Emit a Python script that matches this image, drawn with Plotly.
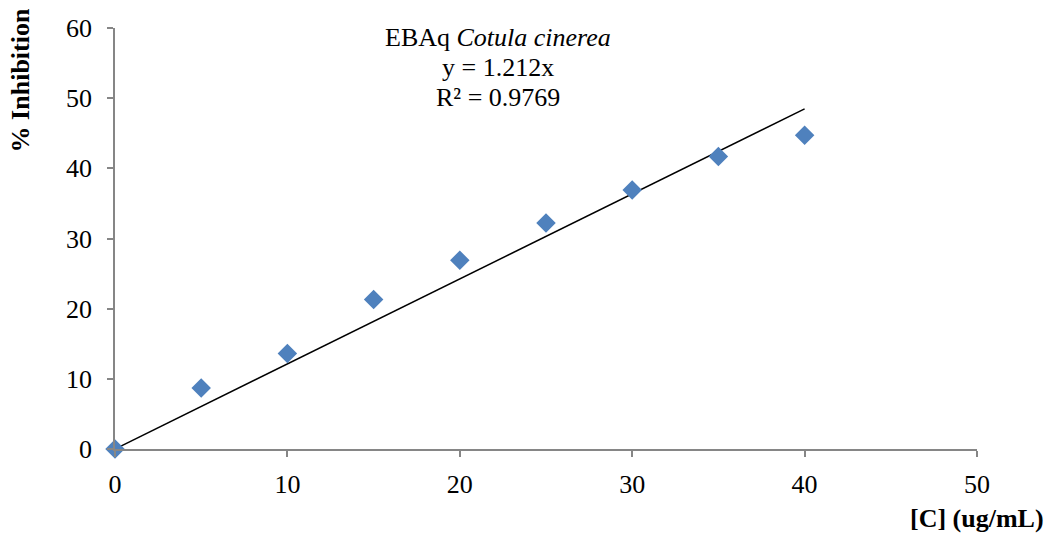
import plotly.graph_objects as go

conc = [0, 5, 10, 15, 20, 25, 30, 35, 40]
inhibition = [0, 8.7, 13.6, 21.3, 26.9, 32.2, 36.9, 41.7, 44.7]
slope = 1.212
fit_x = [0, 40]
fit_y = [slope * v for v in fit_x]

x_ticks = [0, 10, 20, 30, 40, 50]
y_ticks = [0, 10, 20, 30, 40, 50, 60]

label_lines = ["EBAq <i>Cotula cinerea</i>", "y = 1.212x", "R² = 0.9769"]

font_family = "Liberation Serif"

fig = go.Figure()
fig.add_trace(go.Scatter(
    x=fit_x, y=fit_y, mode="lines",
    line=dict(color="black", width=1.5),
    cliponaxis=False, showlegend=False, hoverinfo="skip"))
fig.add_trace(go.Scatter(
    x=conc, y=inhibition, mode="markers",
    marker=dict(symbol="diamond", size=15, color="#4F81BD"),
    cliponaxis=False, showlegend=False))

axis_common = dict(
    showgrid=False, zeroline=False, showline=True, linecolor="#868686", linewidth=1.5,
    ticks="outside", ticklen=6, tickcolor="#868686", tickwidth=1.5,
    tickfont=dict(family=font_family, size=26, color="black"),
)
fig.update_xaxes(range=[0, 50], tickvals=x_ticks, ticklabelstandoff=5, **axis_common)
fig.update_yaxes(range=[0, 60], tickvals=y_ticks, ticklabelstandoff=10, **axis_common)

annotations = []
for i, line in enumerate(label_lines):
    annotations.append(dict(
        text=line, xref="paper", yref="paper", x=0.444,
        y=(449 - (38 + 29.5 * i)) / 421, xanchor="center", yanchor="middle",
        showarrow=False, font=dict(family=font_family, size=26)))
annotations += [
    dict(text="<b>[C] (ug/mL)</b>", xref="paper", yref="paper",
         x=1.0, y=-0.164, xanchor="center", yanchor="middle", showarrow=False,
         font=dict(family=font_family, size=26)),
    dict(text="<b>% Inhibition</b>", xref="paper", yref="paper",
         x=-0.11, y=0.876, xanchor="center", yanchor="middle", showarrow=False,
         textangle=-90, font=dict(family=font_family, size=26)),
]

fig.update_layout(
    width=1053, height=535,
    margin=dict(l=115, r=76, t=28, b=86),
    plot_bgcolor="white", paper_bgcolor="white",
    font=dict(family=font_family, color="black"),
    annotations=annotations,
)

fig.write_html("out.html")
